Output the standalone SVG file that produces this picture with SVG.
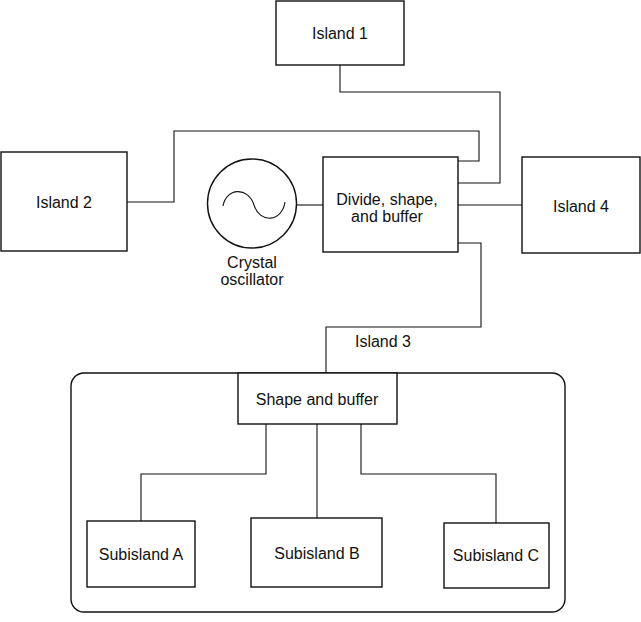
<svg xmlns="http://www.w3.org/2000/svg" width="641" height="622" viewBox="0 0 641 622">
<style>
.box{fill:#fff;stroke:#111;stroke-width:1.4}
.frame{fill:none;stroke:#111;stroke-width:1.4}
.ln{fill:none;stroke:#111;stroke-width:1.1}
text{font-family:"Liberation Sans",Arial,sans-serif;font-size:16px;fill:#111;text-anchor:middle}
</style>
<rect width="641" height="622" fill="#fff"/>
<g id="island3">
<rect class="frame" x="71" y="373" width="494" height="239" rx="13"/>
<text x="383" y="347">Island 3</text>
</g>
<g id="connectors">
<polyline class="ln" points="340,65 340,92 500,92 500,183 458,183"/>
<polyline class="ln" points="127,202 174,202 174,131 479,131 479,161 458,161"/>
<line class="ln" x1="297" y1="205" x2="323" y2="205"/>
<line class="ln" x1="458" y1="205" x2="522" y2="205"/>
<polyline class="ln" points="458,243 481,243 481,327 326,327 326,373"/>
<polyline class="ln" points="266,424 266,474 141,474 141,521"/>
<line class="ln" x1="317" y1="424" x2="317" y2="518"/>
<polyline class="ln" points="361,424 361,474 496,474 496,523"/>
</g>
<g id="island1">
<rect class="box" x="276" y="1" width="128" height="64"/>
<text x="340" y="39">Island 1</text>
</g>
<g id="island2">
<rect class="box" x="1" y="152" width="126" height="99"/>
<text x="64" y="208">Island 2</text>
</g>
<g id="oscillator">
<circle class="box" cx="252" cy="203.5" r="44.5"/>
<path class="ln" d="M223,206 C226,188 248,186 254,205 C260,224 282,222 285,202"/>
<text x="252" y="268">Crystal</text>
<text x="252" y="285">oscillator</text>
</g>
<g id="divide">
<rect class="box" x="323" y="157" width="135" height="95"/>
<text x="387" y="205">Divide, shape,</text>
<text x="387" y="222">and buffer</text>
</g>
<g id="island4">
<rect class="box" x="522" y="157" width="118" height="96"/>
<text x="581" y="212">Island 4</text>
</g>
<g id="shapebuffer">
<rect class="box" x="238" y="373" width="159" height="51"/>
<text x="317" y="405">Shape and buffer</text>
</g>
<g id="subA">
<rect class="box" x="87" y="521" width="108" height="66"/>
<text x="141" y="560">Subisland A</text>
</g>
<g id="subB">
<rect class="box" x="251" y="518" width="131" height="69"/>
<text x="317" y="559">Subisland B</text>
</g>
<g id="subC">
<rect class="box" x="444" y="523" width="105" height="65"/>
<text x="496" y="561">Subisland C</text>
</g>
</svg>
